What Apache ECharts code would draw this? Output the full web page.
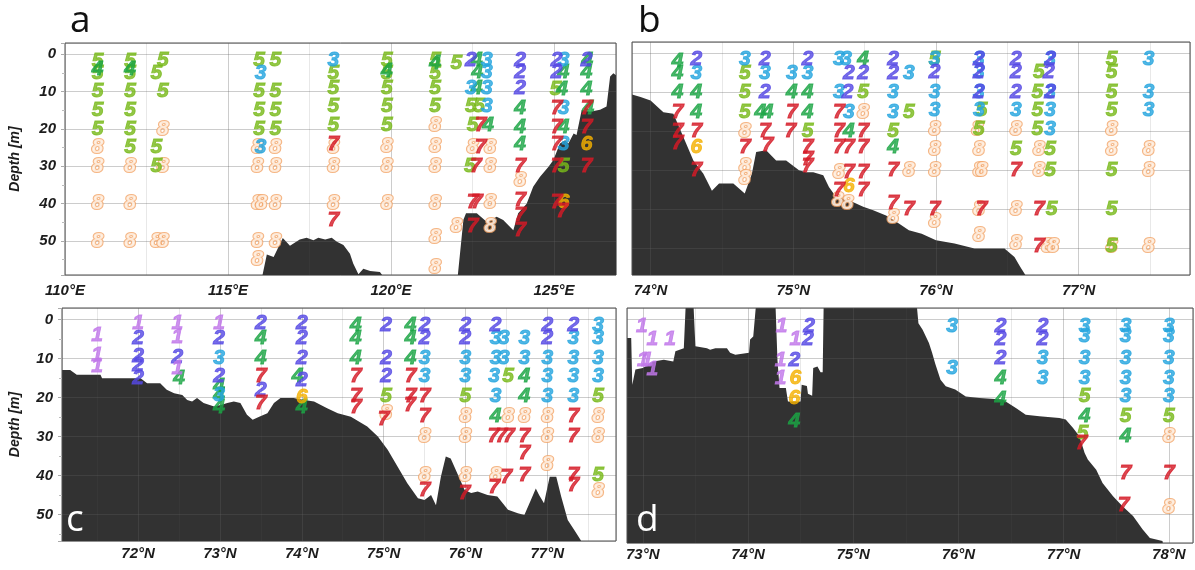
<!DOCTYPE html>
<html>
<head>
<meta charset="utf-8">
<script src="https://cdn.jsdelivr.net/npm/echarts@6/dist/echarts.min.js"></script>
<style>
html,body{margin:0;padding:0;background:#fff}
#chart{width:1195px;height:570px}
</style>
</head>
<body>
<div id="chart"></div>
<script>
// bottom profiles: [position, depth m]
var bathyA = [[116.0,62],[116.06,59],[116.19,53.6],[116.4,54.3],[116.68,49.2],[116.9,51.3],[117.2,49.6],[117.41,49.1],[117.62,49.8],[117.77,49.1],[117.98,49.6],[118.18,49.1],[118.34,50.2],[118.54,51.1],[118.74,53.4],[118.84,56],[119.0,58.9],[119.15,57.4],[119.36,58],[119.66,58.3],[119.76,59.5],[119.8,62],[122.0,62],[122.05,59],[122.22,44.3],[122.3,42.6],[122.63,42.6],[122.94,44.9],[123.24,43.5],[123.44,44.4],[123.75,47.1],[123.9,42.6],[124.16,40],[124.36,35.5],[124.57,32.8],[124.83,30.1],[124.98,28.3],[125.18,23.9],[125.34,23],[125.44,23.9],[125.6,21.2],[125.69,21.6],[125.85,14.9],[126.1,15.4],[126.41,14.9],[126.61,14],[126.72,6],[126.82,5.1],[126.95,6]];
var bathyB = [[73.85,10.3],[73.93,11.1],[74.0,12],[74.09,15],[74.16,15.4],[74.2,18.8],[74.25,23.1],[74.3,27.4],[74.37,30.8],[74.43,35.2],[74.48,33.3],[74.58,33.3],[74.66,35.9],[74.71,30.8],[74.74,25.2],[74.81,24.8],[74.88,27.4],[74.95,27.4],[75.04,29.9],[75.09,30.4],[75.14,30.4],[75.21,31.2],[75.25,34.2],[75.3,36.8],[75.39,37.6],[75.49,39.3],[75.56,40.2],[75.65,41.5],[75.74,43.6],[75.81,45.3],[75.9,46.2],[76.0,47.9],[76.13,48.7],[76.27,50],[76.48,50],[76.55,52.2],[76.59,54.7],[76.63,57],[76.65,60]];
var bathyC = [[71.0,12.9],[71.17,12.9],[71.25,14.1],[71.54,14.1],[71.56,15],[72.03,15],[72.11,16.3],[72.27,16.3],[72.35,18],[72.44,18.9],[72.54,19.3],[72.6,20.6],[72.66,21],[72.72,20.1],[72.8,21.4],[72.93,22.3],[73.01,21.9],[73.09,21.4],[73.17,21],[73.25,21.4],[73.33,24.4],[73.4,25.7],[73.48,24.9],[73.58,24],[73.66,21.4],[73.74,20.1],[73.9,20.1],[74.03,20.6],[74.15,21],[74.31,22.7],[74.44,24],[74.6,24.9],[74.8,27.4],[74.93,30],[75.05,33.4],[75.17,37.7],[75.29,42],[75.42,45.8],[75.5,46.3],[75.58,45],[75.64,47.6],[75.7,40.3],[75.76,35.1],[75.82,35.6],[75.9,39.4],[75.99,43.7],[76.07,44.5],[76.15,44.1],[76.27,45],[76.39,45.4],[76.52,48.8],[76.64,49.7],[76.72,50.1],[76.8,46.3],[76.86,43.3],[76.9,45],[76.96,47.1],[77.03,40.3],[77.11,40.3],[77.17,45.4],[77.25,51.4],[77.33,54],[77.41,56.6],[77.45,60]];
var bathyD = [[72.84,4.7],[72.89,4.7],[72.9,16.7],[72.93,12.8],[73.0,12.4],[73.1,10.7],[73.2,10.3],[73.29,10.7],[73.31,8.1],[73.39,7.3],[73.41,-5],[73.48,-5],[73.5,6.8],[73.61,7.3],[73.64,7.7],[73.69,7.3],[73.8,7.3],[73.83,8.5],[73.88,9],[74.01,8.5],[74.02,5.1],[74.05,4.3],[74.08,-5],[74.26,-5],[74.28,10.3],[74.3,17.5],[74.36,17.5],[74.38,21],[74.5,21],[74.51,16.7],[74.56,17],[74.57,19],[74.61,19.5],[74.62,12.4],[74.66,12],[74.69,13.5],[74.71,13.5],[74.72,-5],[75.6,-5],[75.62,0.9],[75.66,2.6],[75.72,6],[75.75,8.5],[75.78,11.3],[75.83,15.4],[75.88,17.1],[75.97,17.9],[76.07,19.7],[76.2,20.1],[76.42,20.5],[76.55,22.7],[76.64,24.4],[76.77,24.8],[76.96,25.2],[77.02,25.6],[77.09,27.8],[77.15,29.9],[77.2,34.2],[77.23,35.9],[77.31,38.5],[77.37,41.9],[77.47,45.3],[77.56,47.9],[77.66,50.4],[77.75,53.8],[77.82,56],[77.94,56.8],[77.96,60]];

// samples: [position, depth m, water type]
var obsA = [
  [111,2,5],[111,4,4],[111,5,5],[111,10,5],[111,15,5],[111,20,5],[111,25,8],[111,30,8],[111,40,8],[111,50,8],
  [112,2,5],[112,4,4],[112,5,5],[112,10,5],[112,15,5],[112,20,5],[112,25,5],[112,30,8],[112,40,8],[112,50,8],
  [113.0,1.5,5],[112.8,5,5],[113.0,10,5],[113.0,20,8],[112.8,25,5],[112.8,30,5],[113.0,30,8],[112.8,50,8],[113.0,50,8],
  [115.95,1.5,5],[116.0,5,3],[115.95,10,5],[115.95,15,5],[115.95,20,5],[115.9,25,8],[116.0,25,3],[115.9,30,8],[115.9,40,8],[116.02,40,8],[115.9,50,8],[115.9,55,8],
  [116.45,1.5,5],[116.45,10,5],[116.45,15,5],[116.45,20,5],[116.45,25,8],[116.45,30,8],[116.45,40,8],[116.45,50,8],
  [118.23,1.5,3],[118.23,5,5],[118.23,9,5],[118.23,14,5],[118.23,19,5],[118.23,25,8],[118.23,24,7],[118.23,30,8],[118.23,40,8],[118.23,44.5,7],
  [119.87,1.5,5],[119.87,4.5,4],[119.87,5,5],[119.87,9,5],[119.87,14,5],[119.87,19,5],[119.87,24.5,8],[119.87,30,8],[119.87,40,8],
  [121.35,1.5,5],[121.35,2.5,4],[121.35,5,5],[121.35,9,5],[121.35,14,5],[121.35,19,8],[121.35,24.5,8],[121.35,30,8],[121.35,40,8],[121.35,49,8],[121.35,57,8],
  [122.0,2.5,5],[122.0,46,8],
  [122.45,1.5,2],[122.63,1.5,4],[122.94,1.5,3],[122.65,4.7,4],[122.94,4.7,3],
  [122.45,9,3],[122.63,9,4],[122.94,9,3],[122.45,14,5],[122.7,14,5],[122.94,14,3],
  [122.5,19,5],[122.75,19,7],[122.98,19,4],[122.5,24.8,8],[122.75,24.8,7],[123.04,24.8,8],
  [122.42,30,5],[122.6,30,7],[123.04,30,8],[122.5,39.5,7],[122.63,39.5,7],[123.04,39.5,8],[122.5,46,7],[123.04,46,8],
  [123.96,1.5,2],[123.96,4.7,2],[123.96,9,2],[123.96,14.5,4],[123.96,19.5,4],[123.96,24,4],[123.96,30,7],[123.96,33.7,8],[123.96,39,7],[123.96,43,7],[123.96,47,7],
  [125.08,1.5,2],[125.29,1.5,3],[125.08,4.7,2],[125.29,4.7,4],[125.05,9.5,5],[125.25,9.5,4],[125.08,14.5,7],[125.29,14.5,3],
  [125.08,19.5,7],[125.29,19.5,4],[125.08,24,7],[125.29,24,3],[125.08,30,7],[125.29,30,5],[125.08,39.5,7],[125.29,39.5,6],[125.25,42,7],
  [126.0,1.5,2],[126.02,1.5,4],[126.0,4.7,4],[126.0,9.5,4],[126.0,14.5,7],[126.05,14.5,4],[126.0,19.5,7],[126.0,24,6],[126.0,30,7]
];
var obsB = [
  [74.19,2,4],[74.19,5,4],[74.19,10,4],[74.19,15,7],[74.19,20,7],[74.19,23,7],
  [74.32,1.5,2],[74.32,5,3],[74.32,10,4],[74.32,15,4],[74.32,20,7],[74.32,24,6],[74.32,30,7],
  [74.66,1.5,3],[74.66,5,5],[74.66,10,5],[74.66,15,5],[74.66,20,8],[74.66,24,7],[74.66,29,8],[74.66,32,8],
  [74.8,1.5,2],[74.8,5,3],[74.8,10,2],[74.77,15,4],[74.82,15,4],[74.8,20,7],[74.82,23.5,7],
  [74.99,5,3],[74.99,10,4],[74.99,15,7],[74.98,20,7],
  [75.1,1.5,2],[75.1,5,3],[75.1,10,4],[75.1,15,4],[75.1,20,5],[75.1,24,7],[75.1,27,7],[75.1,29,7],
  [75.32,1.5,3],[75.37,1.5,3],[75.49,1.5,4],[75.39,5,2],[75.49,5,2],
  [75.32,10,3],[75.38,10,2],[75.49,10,5],[75.32,15,7],[75.39,15,3],[75.49,15,8],
  [75.32,20,7],[75.39,20,4],[75.49,20,7],[75.32,24,7],[75.39,24,7],[75.49,24,7],
  [75.32,30.5,8],[75.39,30.5,7],[75.49,30.5,7],[75.39,34,6],[75.32,35,7],[75.49,35,7],[75.31,37.5,8],[75.38,38.5,8],
  [75.7,1.5,2],[75.7,5,2],[75.7,10,3],[75.7,15,3],[75.7,20,5],[75.7,24,4],[75.7,30,7],[75.7,38.5,7],[75.7,42,8],
  [75.81,5,3],[75.81,15,5],[75.81,30,8],[75.81,40,7],
  [75.99,1.5,5],[75.99,1.5,3],[75.99,4.7,2],[75.99,9.8,3],[75.99,14.5,3],[75.99,19.5,8],[75.99,24.5,8],[75.99,29.9,8],[75.99,40,7],[75.99,43,8],
  [76.3,1.5,3],[76.3,1.5,2],[76.3,4.7,3],[76.3,4.7,2],[76.3,9.8,2],[76.3,9.8,3],[76.3,14.5,3],[76.32,14.5,5],[76.3,19.5,5],[76.29,19.5,8],
  [76.3,24.5,8],[76.3,29.9,8],[76.32,29.9,8],[76.3,40,8],[76.32,40,7],[76.3,46.5,8],
  [76.56,1.5,2],[76.56,4.7,2],[76.56,9.8,2],[76.56,14.5,3],[76.56,19.5,8],[76.56,24.5,5],[76.56,29.9,7],[76.56,40,8],[76.56,48.7,8],
  [76.72,4.7,5],[76.71,9.8,5],[76.71,14.5,5],[76.71,19.5,5],[76.72,24.5,8],[76.72,29.9,8],[76.72,40,7],[76.72,49.5,7],
  [76.8,1.5,2],[76.8,1.5,3],[76.79,4.7,2],[76.8,9.8,3],[76.8,9.8,2],[76.8,14.5,3],[76.8,19.5,3],[76.8,24.5,5],[76.8,29.9,5],[76.81,40,5],[76.78,49.5,8],[76.82,49.5,8],
  [77.23,1.5,5],[77.23,4.7,5],[77.23,9.8,5],[77.23,14.5,5],[77.23,19.5,8],[77.23,24.5,8],[77.23,29.9,5],[77.23,40,5],[77.23,49.5,8],[77.23,49.5,5],
  [77.49,1.5,3],[77.49,9.8,3],[77.49,14.5,3],[77.49,24.5,8],[77.49,29.9,8],[77.49,49.5,8]
];
var obsC = [
  [71.5,4,1],[71.5,9,1],[71.5,12,1],
  [72.0,0.9,1],[72.0,4.7,2],[72.0,9.4,2],[72.0,11.6,2],[72.0,15,2],
  [72.48,0.9,1],[72.48,4.5,1],[72.48,9.5,2],[72.48,12.5,1],[72.5,15,4],
  [72.99,0.9,1],[72.99,4.7,2],[72.99,10,3],[72.99,14.5,2],[72.99,17,4],[72.99,19.5,3],[72.99,19.5,4],[72.99,22.5,4],
  [73.5,0.9,2],[73.5,4.7,4],[73.5,10,4],[73.5,14.5,7],[73.5,18,2],[73.5,21.5,7],
  [74.0,0.9,2],[74.0,4.7,2],[74.0,10,2],[73.95,14.5,4],[74.0,15.5,2],[74.0,20,6],[74.0,22.5,4],
  [74.66,1.3,4],[74.66,4.7,4],[74.66,9.8,4],[74.66,14.6,7],[74.66,19.7,7],[74.66,22.5,7],
  [75.03,1.3,2],[75.03,9.8,2],[75.03,14.6,2],[75.03,19.7,5],[75.03,24,8],[75.0,25.5,7],
  [75.33,1.3,4],[75.33,4.7,4],[75.33,9.8,4],[75.33,14.6,7],[75.33,19.7,7],[75.32,22,7],
  [75.5,1.3,2],[75.5,4.7,2],[75.5,9.8,3],[75.5,14.6,3],[75.5,19.7,7],[75.5,24.8,7],[75.5,30,8],[75.5,39.8,8],[75.5,43.7,7],
  [76.0,1.3,2],[76.0,4.7,2],[76.0,9.8,3],[76.0,14.6,3],[76.0,19.7,5],[76.0,24.8,8],[76.0,30,8],[76.0,39.8,8],[75.99,44.5,7],
  [76.37,1.3,2],[76.37,4.7,3],[76.47,4.7,3],[76.37,9.8,3],[76.47,9.8,3],[76.35,14.6,3],[76.52,14.6,5],[76.37,19.7,3],
  [76.37,24.8,4],[76.52,24.8,8],[76.34,30,7],[76.44,30,7],[76.53,30,7],[76.37,39.8,8],[76.5,40.5,7],[76.35,43,7],
  [76.72,4.7,3],[76.72,9.8,3],[76.72,14.6,4],[76.72,19.7,4],[76.72,24.8,8],[76.72,30,7],[76.72,34.3,7],[76.72,40,7],
  [77.0,1.3,2],[77.0,4.7,2],[77.0,9.8,3],[77.0,14.6,3],[77.0,19.7,3],[77.0,24.8,8],[77.0,30,8],[77.0,37,8],
  [77.32,1.3,2],[77.32,4.7,3],[77.32,9.8,3],[77.32,14.6,3],[77.32,19.7,3],[77.32,24.8,7],[77.32,30,7],[77.32,39.8,7],[77.32,42.5,7],
  [77.62,1.3,3],[77.62,4.7,3],[77.62,9.8,3],[77.62,14.6,3],[77.62,19.7,5],[77.62,24.8,8],[77.62,30,8],[77.62,39.8,5],[77.62,44,8]
];
var obsD = [
  [72.99,1.7,1],[73.09,5.1,1],[73.26,5.1,1],[73.0,10.3,1],[73.04,10.3,1],[73.09,12.8,1],
  [74.32,1.7,1],[74.58,1.7,2],[74.45,5.1,1],[74.57,5.1,2],[74.31,10.3,1],[74.44,10.3,2],[74.31,15,1],[74.45,15,6],[74.44,20.1,6],[74.44,26.1,4],
  [75.94,1.7,3],[75.94,12.4,3],
  [76.4,1.7,2],[76.4,5.1,2],[76.4,9.8,2],[76.4,15,4],[76.4,20.5,4],
  [76.8,1.7,2],[76.8,5.1,2],[76.8,9.8,3],[76.8,15,3],
  [77.2,1.7,3],[77.2,4.2,3],[77.2,9.8,3],[77.2,15,3],[77.2,19.7,5],[77.2,24.8,4],[77.18,29,5],[77.17,31.6,7],
  [77.59,1.7,3],[77.59,4.2,3],[77.59,9.8,3],[77.59,15,3],[77.59,19.7,3],[77.59,24.8,5],[77.59,29.9,4],[77.59,39.5,7],[77.57,47.5,7],
  [78.0,1.7,3],[78.0,4.2,3],[78.0,9.8,3],[78.0,15,3],[78.0,19.7,3],[78.0,24.8,5],[78.0,30,8],[78.0,39.5,7],[78.0,48,8]
];

var typeColors = {1:'#c077ea',2:'#5548e4',3:'#25a5de',4:'#1ca545',5:'#78b91a',6:'#f4b000',7:'#d51a27',8:'#fff6ee'};

var panels = [
  {grid:{left:65,top:43,width:551,height:232}, x:[110,126.9], xStep:5, y:[-3,59.1], unit:'°E', bathy:bathyA, obs:obsA, depthAxis:true, labelGap:8, showFirst:true},
  {grid:{left:632,top:42,width:558,height:233}, x:[73.87,77.78], xStep:1, y:[-3,56.8], unit:'°N', bathy:bathyB, obs:obsB, depthAxis:false, labelGap:8, showFirst:false},
  {grid:{left:62,top:308,width:554,height:233}, x:[71.07,77.84], xStep:1, y:[-3,56.8], unit:'°N', bathy:bathyC, obs:obsC, depthAxis:true, labelGap:5, showFirst:false},
  {grid:{left:627,top:308,width:566,height:235}, x:[72.85,78.23], xStep:1, y:[-3,57.3], unit:'°N', bathy:bathyD, obs:obsD, depthAxis:false, labelGap:4, showFirst:false}
];

var txt = {fontFamily:'Liberation Sans', fontWeight:'bold', fontStyle:'italic', color:'#1c1c1c', fontSize:15};
var grids = [], xAxes = [], yAxes = [], series = [];

panels.forEach(function(p, i){
  grids.push(Object.assign({show:true, borderColor:'#4d4d4d', borderWidth:1, backgroundColor:'#fff'}, p.grid));
  xAxes.push({
    gridIndex:i, type:'value', min:p.x[0], max:p.x[1], minInterval:p.xStep, maxInterval:p.xStep, z:3,
    axisLine:{show:false}, axisTick:{show:false},
    axisLabel:Object.assign({formatter:'{value}' + p.unit, margin:p.labelGap, showMinLabel:p.showFirst, showMaxLabel:false}, txt),
    splitLine:{show:true, lineStyle:{color:'rgba(95,95,95,0.32)', width:1}},
    minorTick:{show:false, splitNumber:2},
    minorSplitLine:{show:true, lineStyle:{color:'rgba(95,95,95,0.14)', width:1}}
  });
  yAxes.push({
    gridIndex:i, type:'value', inverse:true, min:p.y[0], max:p.y[1], minInterval:10, maxInterval:10, z:3,
    name:p.depthAxis ? 'Depth [m]' : '', nameLocation:'middle', nameGap:i === 0 ? 43 : 40,
    nameTextStyle:{fontFamily:'Liberation Sans', fontWeight:'bold', fontStyle:'italic', fontSize:14, color:'#1c1c1c'},
    axisLine:{show:false},
    axisTick:{show:p.depthAxis, length:4, lineStyle:{color:'#aaa'}},
    minorTick:{show:p.depthAxis, splitNumber:2, length:3, lineStyle:{color:'#bbb'}},
    axisLabel:Object.assign({show:p.depthAxis, margin:9, showMinLabel:false, showMaxLabel:false}, txt),
    splitLine:{show:true, lineStyle:{color:'rgba(95,95,95,0.32)', width:1}}
  });
  series.push({
    type:'line', xAxisIndex:i, yAxisIndex:i, data:p.bathy, symbol:'none', silent:true, z:1,
    lineStyle:{width:0, opacity:0},
    areaStyle:{color:'#323232', opacity:1, origin:'end'}
  });
  [8,5,4,3,2,1,6,7].forEach(function(t){
    var pts = p.obs.filter(function(o){ return o[2] === t; });
    if (!pts.length) return;
    var lab = {show:true, position:'inside', formatter:String(t), fontFamily:'Liberation Sans', fontWeight:'bold', fontStyle:'italic', fontSize:21,
      color:typeColors[t], textBorderColor:typeColors[t], textBorderWidth:0.9};
    if (t === 8) { lab.textBorderColor = '#f2a264'; lab.textBorderWidth = 2.2; }
    series.push({
      type:'scatter', xAxisIndex:i, yAxisIndex:i, data:pts, symbolSize:1, z:5, silent:true,
      itemStyle:{color:'rgba(0,0,0,0)'},
      label:lab
    });
  });
});

var letterFont = '37px "Open Sans"';
var myChart = echarts.init(document.getElementById('chart'));
myChart.setOption({
  animation:false,
  backgroundColor:'#fff',
  grid:grids, xAxis:xAxes, yAxis:yAxes, series:series,
  graphic:[
    {type:'text', left:70, top:3, z:20, style:{text:'a', font:letterFont, fill:'#111'}},
    {type:'text', left:638, top:3, z:20, style:{text:'b', font:letterFont, fill:'#111'}},
    {type:'text', left:66, top:502, z:20, style:{text:'c', font:letterFont, fill:'#fff'}},
    {type:'text', left:636, top:502, z:20, style:{text:'d', font:letterFont, fill:'#fff'}}
  ]
});
window.addEventListener('resize', function(){ myChart.resize(); });
</script>
</body>
</html>
